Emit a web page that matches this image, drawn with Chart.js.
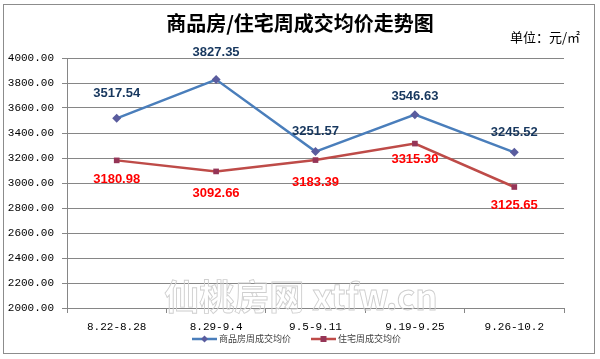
<!DOCTYPE html>
<html>
<head>
<meta charset="utf-8">
<script src="https://cdn.jsdelivr.net/npm/chart.js@4.4.0/dist/chart.umd.min.js"></script>
<style>
html,body{margin:0;padding:0;background:#fff;}
#wrap{position:relative;width:600px;height:359px;}
canvas{display:block;}
</style>
</head>
<body>
<div id="wrap"><canvas id="c" width="600" height="359"></canvas></div>
<script>
// ---- data ----
const categories = ['8.22-8.28', '8.29-9.4', '9.5-9.11', '9.19-9.25', '9.26-10.2'];
const seriesNames = ['商品房周成交均价', '住宅周成交均价'];
const commercialValues = [3517.54, 3827.35, 3251.57, 3546.63, 3245.52];
const residentialValues = [3180.98, 3092.66, 3183.39, 3315.30, 2968];   // last point as plotted in the picture
const commercialLabels = ['3517.54', '3827.35', '3251.57', '3546.63', '3245.52'];
const residentialLabels = ['3180.98', '3092.66', '3183.39', '3315.30', '3125.65'];
const yMin = 2000, yMax = 4000, yStep = 200;
const titleText = '商品房/住宅周成交均价走势图';
const unitText = '单位：元/㎡';
const watermarkText = '仙桃房网 xtfw.cn';

const frameAndText = {
  id: 'frameAndText',
  beforeDraw(chart) {
    const ctx = chart.ctx;
    ctx.save();
    ctx.fillStyle = '#fff';
    ctx.fillRect(0, 0, 600, 359);
    ctx.strokeStyle = '#8c8c8c';
    ctx.lineWidth = 1;
    ctx.strokeRect(3.5, 4.5, 591, 349);
    // title
    ctx.fillStyle = '#000';
    ctx.font = 'bold 20px "Noto Sans CJK SC"';
    ctx.textAlign = 'center';
    ctx.textBaseline = 'middle';
    ctx.fillText(titleText, 300, 23);
    // unit
    ctx.font = '13px "Noto Sans CJK SC"';
    ctx.textAlign = 'right';
    ctx.fillText(unitText, 580, 37);
    ctx.restore();
  },
  beforeDatasetsDraw(chart) {
    const ctx = chart.ctx;
    ctx.save();
    ctx.font = 'bold 35px "Noto Sans CJK SC"';
    ctx.textAlign = 'center';
    ctx.textBaseline = 'middle';
    ctx.strokeStyle = '#cfcfcf';
    ctx.lineWidth = 0.9;
    ctx.strokeText(watermarkText, 301, 297);
    ctx.restore();
  },
  afterDatasetsDraw(chart) {
    const ctx = chart.ctx;
    ctx.save();
    ctx.font = 'bold 13px "Liberation Sans"';
    ctx.textAlign = 'center';
    ctx.textBaseline = 'middle';
    const m0 = chart.getDatasetMeta(0), m1 = chart.getDatasetMeta(1);
    const up = [25, 27, 20, 18, 20];
    m0.data.forEach((p, i) => {
      ctx.fillStyle = '#17375E';
      ctx.fillText(commercialLabels[i], p.x, p.y - up[i]);
    });
    const dn = [19, 22, 22, 16, 18];
    m1.data.forEach((p, i) => {
      ctx.fillStyle = '#FF0000';
      ctx.fillText(residentialLabels[i], p.x, p.y + dn[i]);
    });
    // legend
    ctx.font = '9px "Noto Sans CJK SC"';
    ctx.textAlign = 'left';
    const items = [
      {x: 192, line: '#4A7EBB', mk: '#5A5C9E', style: 'diamond', text: seriesNames[0]},
      {x: 311, line: '#BE4B48', mk: '#953557', style: 'square', text: seriesNames[1]}
    ];
    const ly = 339;
    items.forEach(it => {
      ctx.strokeStyle = it.line;
      ctx.lineWidth = 2.5;
      ctx.beginPath(); ctx.moveTo(it.x, ly); ctx.lineTo(it.x + 25, ly); ctx.stroke();
      ctx.fillStyle = it.mk;
      const cx = it.x + 12.5;
      if (it.style === 'diamond') {
        ctx.beginPath(); ctx.moveTo(cx, ly - 3.5); ctx.lineTo(cx + 3.5, ly); ctx.lineTo(cx, ly + 3.5); ctx.lineTo(cx - 3.5, ly); ctx.closePath(); ctx.fill();
      } else {
        ctx.fillRect(cx - 3, ly - 3, 6, 6);
      }
      ctx.fillStyle = '#404040';
      ctx.fillText(it.text, it.x + 27, ly);
    });
    ctx.restore();
  }
};

new Chart(document.getElementById('c'), {
  type: 'line',
  data: {
    labels: categories,
    datasets: [
      {
        label: seriesNames[0],
        data: commercialValues,
        borderColor: '#4A7EBB',
        borderWidth: 2.5,
        pointStyle: 'rectRot',
        pointRadius: 4.5,
        pointBackgroundColor: '#5A5C9E',
        pointBorderColor: '#5A5C9E',
        pointBorderWidth: 0,
        tension: 0,
        fill: false
      },
      {
        label: seriesNames[1],
        data: residentialValues,
        borderColor: '#BE4B48',
        borderWidth: 2.5,
        pointStyle: 'rect',
        pointRadius: 4,
        pointBackgroundColor: '#953557',
        pointBorderColor: '#953557',
        pointBorderWidth: 0,
        tension: 0,
        fill: false
      }
    ]
  },
  options: {
    responsive: false,
    animation: false,
    events: [],
    layout: {padding: {top: 58, right: 36, left: 0, bottom: 0}},
    plugins: {legend: {display: false}, title: {display: false}, tooltip: {enabled: false}},
    scales: {
      x: {
        type: 'category',
        offset: true,
        afterFit(s) { s.height = 51; },
        grid: {offset: true, drawOnChartArea: false, drawTicks: true, tickLength: 5, color: '#868686'},
        border: {color: '#868686', width: 1},
        ticks: {color: '#000', font: {family: '"Liberation Mono"', size: 11}, padding: 7, maxRotation: 0}
      },
      y: {
        min: yMin, max: yMax,
        afterFit(s) { s.width = 67; },
        grid: {color: '#868686', lineWidth: 1, drawTicks: true, tickLength: 5},
        border: {color: '#868686', width: 1},
        ticks: {stepSize: yStep, color: '#000', font: {family: '"Liberation Mono"', size: 11}, padding: 8,
          callback: v => Number(v).toFixed(2)}
      }
    }
  },
  plugins: [frameAndText]
});
</script>
</body>
</html>
